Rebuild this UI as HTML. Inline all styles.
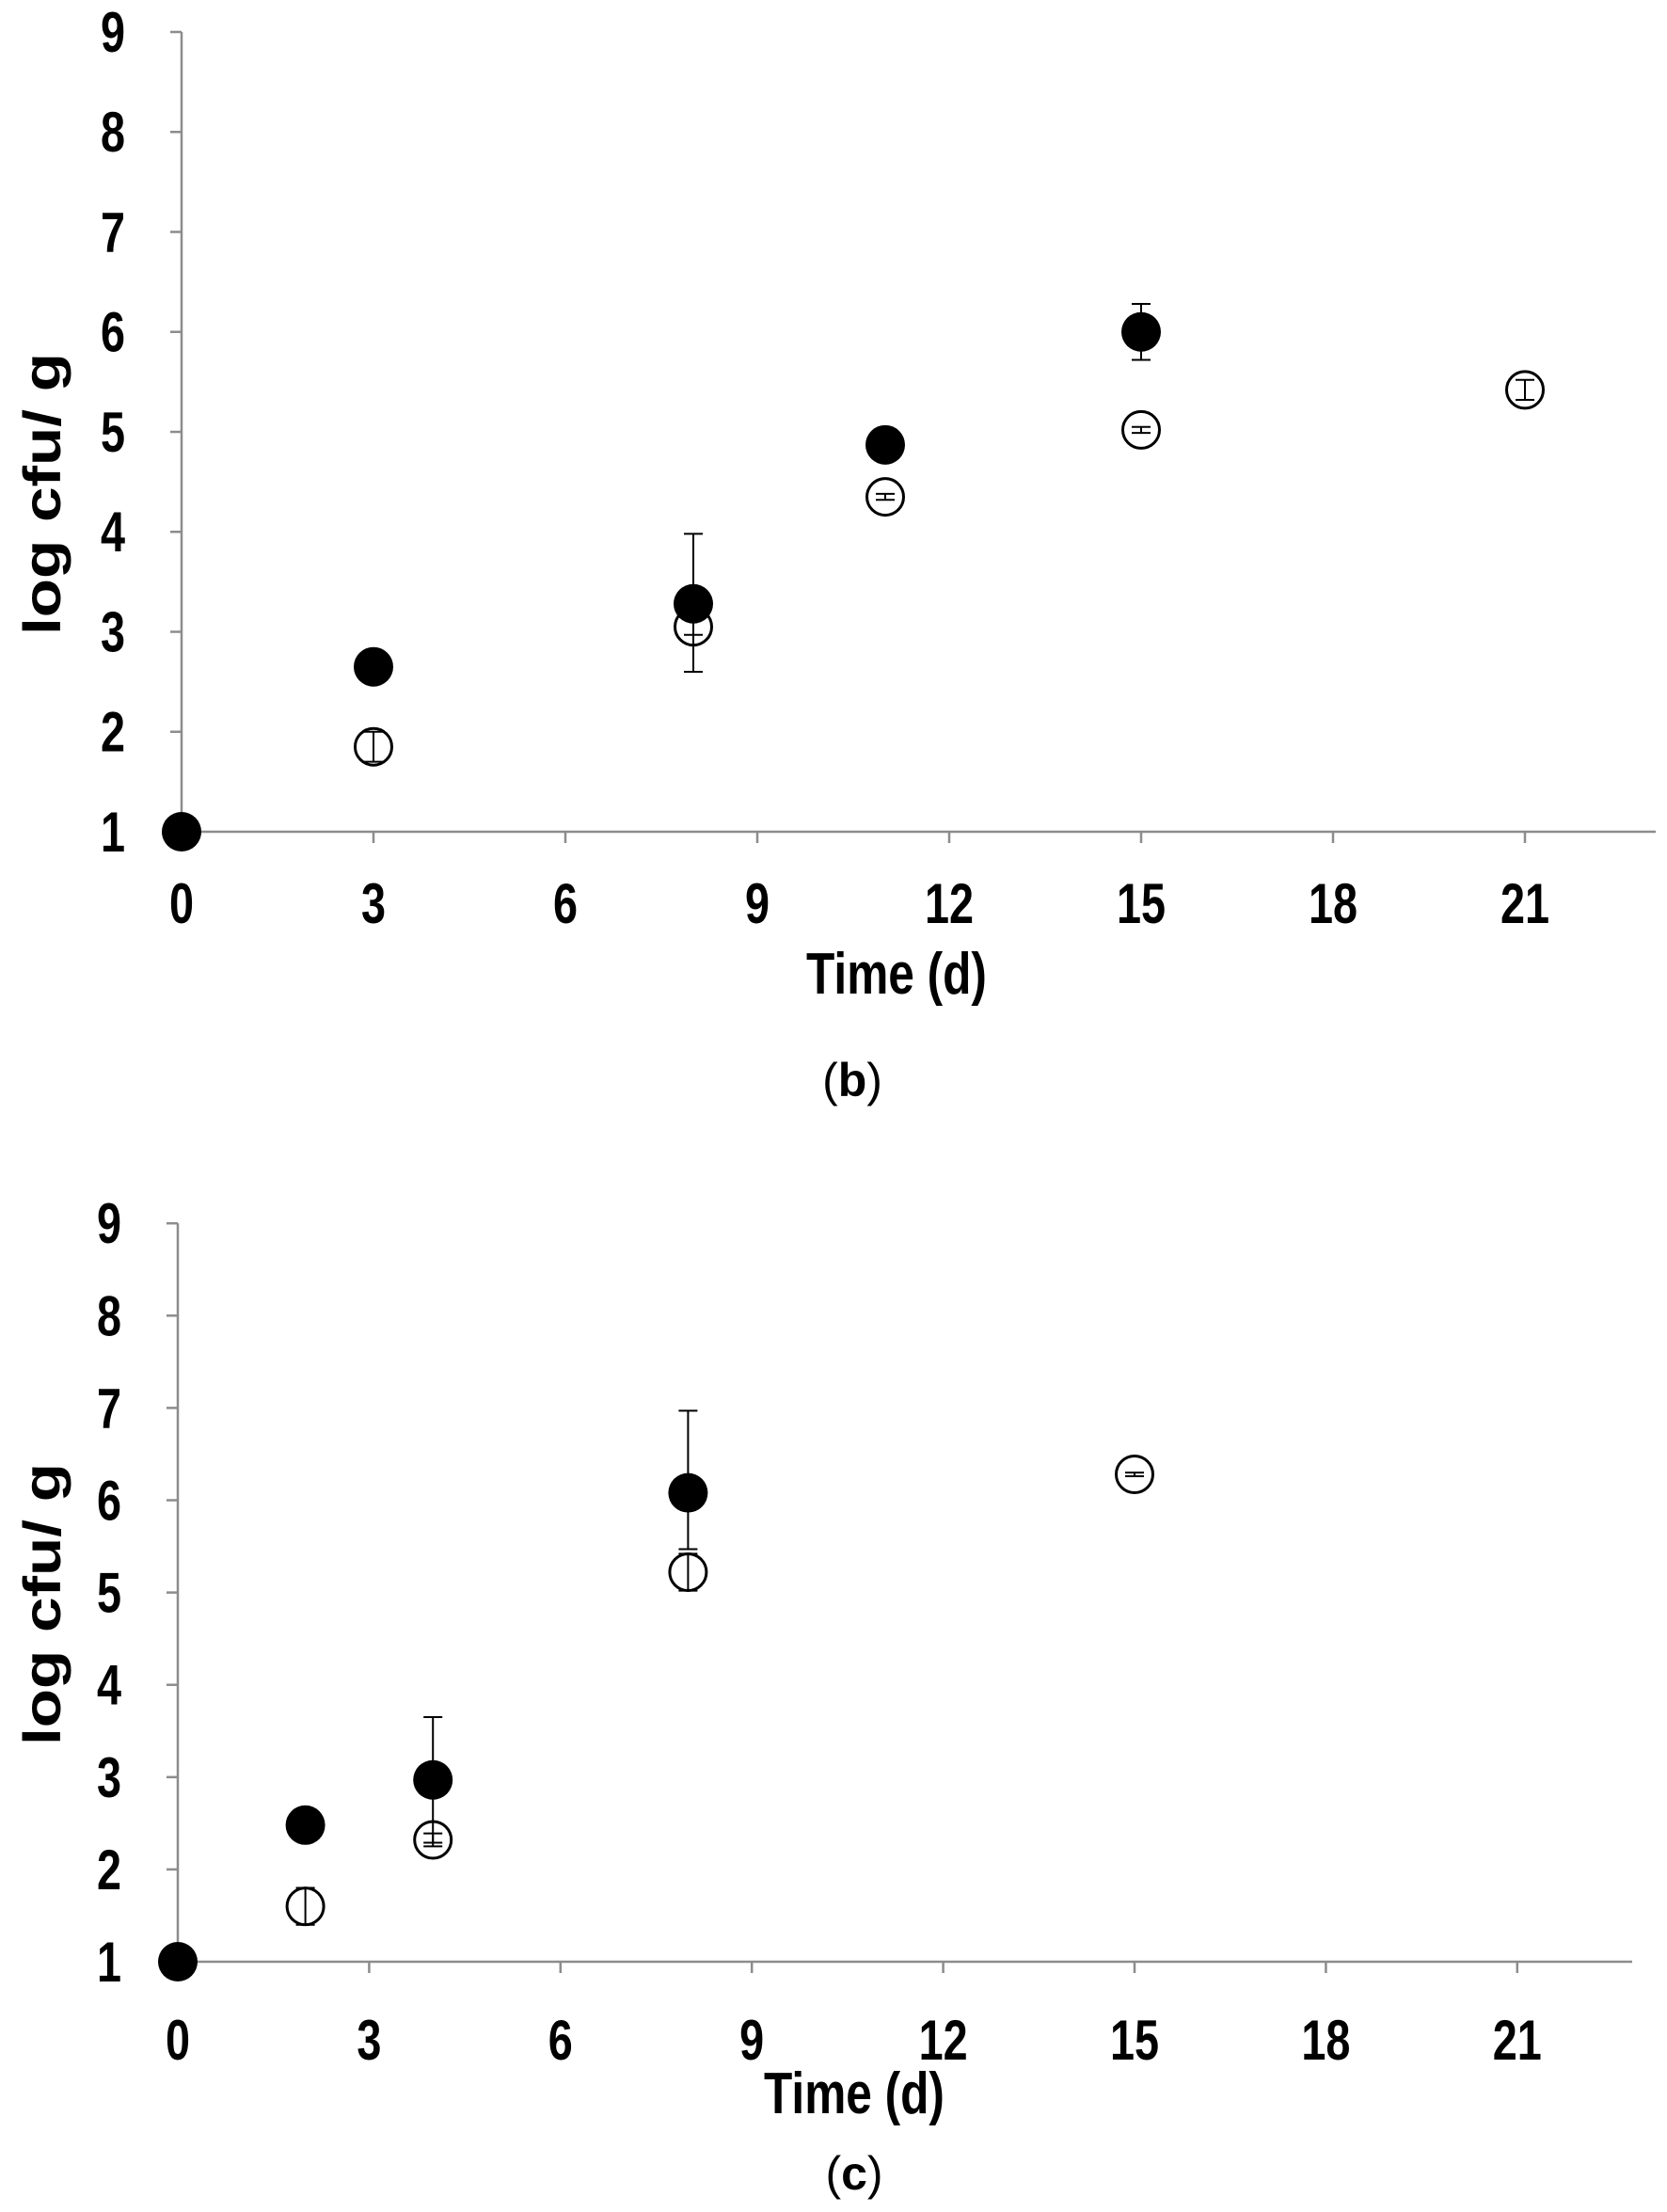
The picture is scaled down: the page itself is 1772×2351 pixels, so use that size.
<!DOCTYPE html>
<html><head><meta charset="utf-8"><style>
html,body{margin:0;padding:0;background:#fff;}
svg{display:block;}
text{font-family:"Liberation Sans",sans-serif;}
</style></head><body>
<svg id="fig" width="1772" height="2351" viewBox="0 0 1772 2351"></svg>
<script>
// Panel b data
const bTicksX = [0,3,6,9,12,15,18,21];
const bTicksY = [1,2,3,4,5,6,7,8,9];
const bFilledX = [0,3,8,11,15];
const bFilledY = [1,2.65,3.28,4.87,6.0];
const bFilledErrUp = [0,0,0.7,0,0.28];
const bFilledErrDn = [0,0,0.68,0,0.28];
const bOpenX = [3,8,11,15,21];
const bOpenY = [1.85,3.05,4.35,5.02,5.42];
const bOpenErr = [0.15,0.08,0.03,0.03,0.1];
// Panel c data
const cTicksX = [0,3,6,9,12,15,18,21];
const cTicksY = [1,2,3,4,5,6,7,8,9];
const cFilledX = [0,2,4,8];
const cFilledY = [1,2.48,2.97,6.08];
const cFilledErrUp = [0,0,0.68,0.89];
const cFilledErrDn = [0,0,0.68,0.61];
const cOpenX = [2,4,8,15];
const cOpenY = [1.6,2.32,5.22,6.28];
const cOpenErr = [0.2,0.07,0.2,0.02];

const NS="http://www.w3.org/2000/svg";
const svg=document.getElementById('fig');
function mk(tag,attrs,parent,txt){const e=document.createElementNS(NS,tag);for(const k in attrs)e.setAttribute(k,attrs[k]);if(txt!==undefined)e.textContent=txt;(parent||svg).appendChild(e);return e;}

function panel(p){
  const g=mk('g',{});
  
  
  const sx=d=>p.x0+d*p.px;
  const sy=v=>p.y1-(v-1)*p.py;
  const ax=mk('line',{x1:p.x0,y1:sy(9),x2:p.x0,y2:p.y1,stroke:'#8c8c8c','stroke-width':2.5},g);
  
  const xa=mk('line',{x1:p.x0,y1:p.y1,x2:p.xEnd,y2:p.y1,stroke:'#8c8c8c','stroke-width':2.5},g);
  
  p.ticksY.forEach(v=>{
    mk('line',{x1:p.x0-12,y1:sy(v),x2:p.x0,y2:sy(v),stroke:'#8c8c8c','stroke-width':2.5},g);
    const lx=p.x0-73;
    const t=mk('text',{x:lx,y:sy(v)+21,'text-anchor':'middle','font-size':60,'font-weight':'bold',transform:`translate(${lx},0) scale(0.78,1) translate(${-lx},0)`},g,String(v));
    
  });
  p.ticksX.forEach(d=>{
    mk('line',{x1:sx(d),y1:p.y1,x2:sx(d),y2:p.y1+12,stroke:'#8c8c8c','stroke-width':2.5},g);
    const t=mk('text',{x:sx(d),y:p.xLabY,'text-anchor':'middle','font-size':60,'font-weight':'bold',transform:`translate(${sx(d)},0) scale(0.78,1) translate(${-sx(d)},0)`},g,String(d));
    
  });
  const xt=mk('text',{x:p.titleX,y:p.titleY,'text-anchor':'middle','font-size':62,'font-weight':'bold',transform:`translate(${p.titleX},0) scale(0.8,1) translate(${-p.titleX},0)`},g,'Time (d)');
  
  const yt=mk('text',{x:0,y:0,'text-anchor':'middle','font-size':56,'font-weight':'bold',textLength:300,lengthAdjust:'spacingAndGlyphs',transform:`translate(64,${p.yTitleY}) rotate(-90)`},g,'log cfu/ g');
  
  const cap=mk('text',{x:p.capX,y:p.capY,'text-anchor':'middle','font-size':50,'font-family':'Liberation Serif, serif'},g);
  
  mk('tspan',{},cap,'(');mk('tspan',{'font-weight':'bold'},cap,p.cap);mk('tspan',{},cap,')');
  function errbar(x,v,up,dn){
    if(up<=0&&dn<=0)return;
    const e=mk('g',{stroke:'#000','stroke-width':2},g);
    
    mk('line',{x1:sx(x),y1:sy(v+up),x2:sx(x),y2:sy(v-dn)},e);
    mk('line',{x1:sx(x)-10,y1:sy(v+up),x2:sx(x)+10,y2:sy(v+up)},e);
    mk('line',{x1:sx(x)-10,y1:sy(v-dn),x2:sx(x)+10,y2:sy(v-dn)},e);
  }
  p.fx.forEach((x,i)=>{
    const c=mk('circle',{cx:sx(x),cy:sy(p.fy[i]),r:21,fill:'#000'},g);
    
  });
  p.fx.forEach((x,i)=>errbar(x,p.fy[i],p.fu[i],p.fd[i]));
  p.ox.forEach((x,i)=>{
    const c=mk('circle',{cx:sx(x),cy:sy(p.oy[i]),r:19.5,fill:'none',stroke:'#000','stroke-width':3},g);
    
    errbar(x,p.oy[i],p.oe[i],p.oe[i]);
  });
}
panel({name:'chart-b',x0:193,y1:884,py:106.25,px:68,xEnd:1760,ticksX:bTicksX,ticksY:bTicksY,xLabY:981,titleX:953,titleY:1056,yTitleY:525,capX:906,capY:1165,cap:'b',
  fx:bFilledX,fy:bFilledY,fu:bFilledErrUp,fd:bFilledErrDn,ox:bOpenX,oy:bOpenY,oe:bOpenErr});
panel({name:'chart-c',x0:189,y1:2085,py:98.1,px:67.8,xEnd:1735,ticksX:cTicksX,ticksY:cTicksY,xLabY:2189,titleX:908,titleY:2246,yTitleY:1705,capX:908,capY:2327,cap:'c',
  fx:cFilledX,fy:cFilledY,fu:cFilledErrUp,fd:cFilledErrDn,ox:cOpenX,oy:cOpenY,oe:cOpenErr});
</script>
</body></html>
